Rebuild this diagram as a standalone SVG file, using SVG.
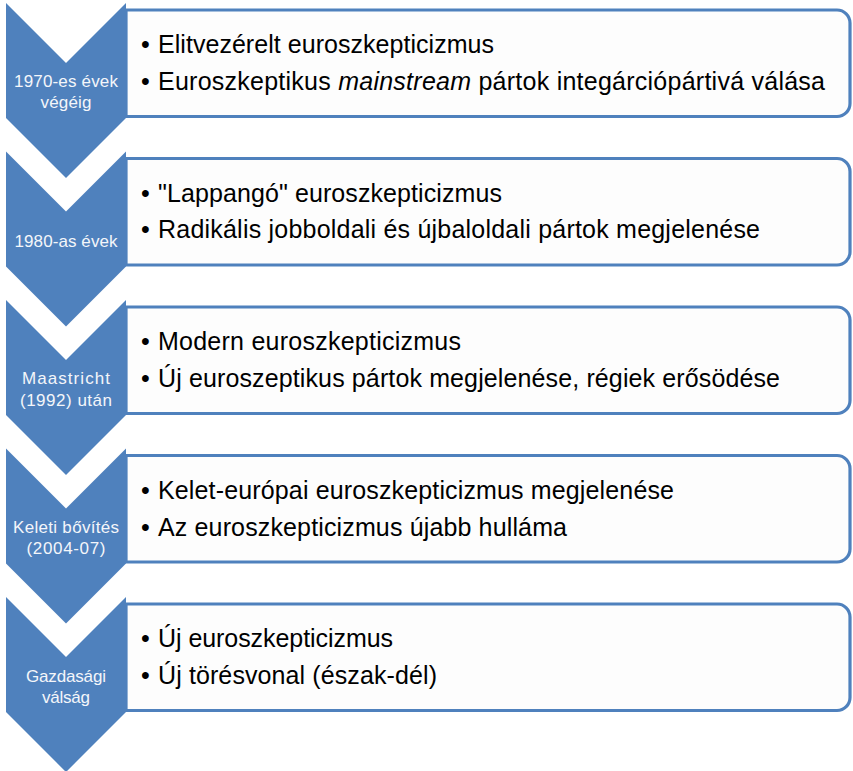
<svg xmlns="http://www.w3.org/2000/svg" width="853" height="771" viewBox="0 0 853 771">
<style>
.chev{fill:#4F81BD;}
.box{fill:#FDFDFD;stroke:#4F81BD;stroke-width:3.2;}
.lbl{font-family:"Liberation Sans",Arial,sans-serif;font-size:17px;fill:#F4F6FA;text-anchor:middle;}
.txt{font-family:"Liberation Sans",Arial,sans-serif;font-size:25px;fill:#000000;}
.it{font-style:italic;}
</style>
<rect x="0" y="0" width="853" height="771" fill="#FFFFFF"/>
<g id="stage1">
<path class="box" d="M126,10 H837 A13,13 0 0 1 850,23 V103.5 A13,13 0 0 1 837,116.5 H126 Z"/>
<path class="chev" d="M6,3 L66,63 L126,3 V118 L66,178 L6,118 Z"/>
<text class="lbl" x="66" y="87" textLength="104">1970-es évek</text>
<text class="lbl" x="66" y="108" textLength="51">végéig</text>
<text class="txt" x="141" y="53">•</text>
<text class="txt" x="158" y="53" textLength="336">Elitvezérelt euroszkepticizmus</text>
<text class="txt" x="141" y="90">•</text>
<text class="txt" x="158" y="90" textLength="667">Euroszkeptikus <tspan class="it">mainstream</tspan> pártok integárciópártivá válása</text>
</g>
<g id="stage2">
<path class="box" d="M126,158.5 H837 A13,13 0 0 1 850,171.5 V252 A13,13 0 0 1 837,265 H126 Z"/>
<path class="chev" d="M6,151.5 L66,211.5 L126,151.5 V266.5 L66,326.5 L6,266.5 Z"/>
<text class="lbl" x="66" y="247" textLength="103">1980-as évek</text>
<text class="txt" x="141" y="202">•</text>
<text class="txt" x="158" y="202" textLength="344">"Lappangó" euroszkepticizmus</text>
<text class="txt" x="141" y="238">•</text>
<text class="txt" x="158" y="238" textLength="602">Radikális jobboldali és újbaloldali pártok megjelenése</text>
</g>
<g id="stage3">
<path class="box" d="M126,307 H837 A13,13 0 0 1 850,320 V400.5 A13,13 0 0 1 837,413.5 H126 Z"/>
<path class="chev" d="M6,300 L66,360 L126,300 V415 L66,475 L6,415 Z"/>
<text class="lbl" x="66" y="384" textLength="88">Maastricht</text>
<text class="lbl" x="66" y="406" textLength="92">(1992) után</text>
<text class="txt" x="141" y="350">•</text>
<text class="txt" x="158" y="350" textLength="303">Modern euroszkepticizmus</text>
<text class="txt" x="141" y="387">•</text>
<text class="txt" x="158" y="387" textLength="622">Új euroszeptikus pártok megjelenése, régiek erősödése</text>
</g>
<g id="stage4">
<path class="box" d="M126,455.5 H837 A13,13 0 0 1 850,468.5 V549 A13,13 0 0 1 837,562 H126 Z"/>
<path class="chev" d="M6,448.5 L66,508.5 L126,448.5 V563.5 L66,623.5 L6,563.5 Z"/>
<text class="lbl" x="66" y="533" textLength="106">Keleti bővítés</text>
<text class="lbl" x="66" y="554" textLength="79">(2004-07)</text>
<text class="txt" x="141" y="499">•</text>
<text class="txt" x="158" y="499" textLength="516">Kelet-európai euroszkepticizmus megjelenése</text>
<text class="txt" x="141" y="536">•</text>
<text class="txt" x="158" y="536" textLength="409">Az euroszkepticizmus újabb hulláma</text>
</g>
<g id="stage5">
<path class="box" d="M126,604 H837 A13,13 0 0 1 850,617 V697.5 A13,13 0 0 1 837,710.5 H126 Z"/>
<path class="chev" d="M6,597 L66,657 L126,597 V712 L66,772 L6,712 Z"/>
<text class="lbl" x="66" y="682" textLength="80">Gazdasági</text>
<text class="lbl" x="66" y="703" textLength="48">válság</text>
<text class="txt" x="141" y="647">•</text>
<text class="txt" x="158" y="647" textLength="235">Új euroszkepticizmus</text>
<text class="txt" x="141" y="684">•</text>
<text class="txt" x="158" y="684" textLength="279">Új törésvonal (észak-dél)</text>
</g>
</svg>
